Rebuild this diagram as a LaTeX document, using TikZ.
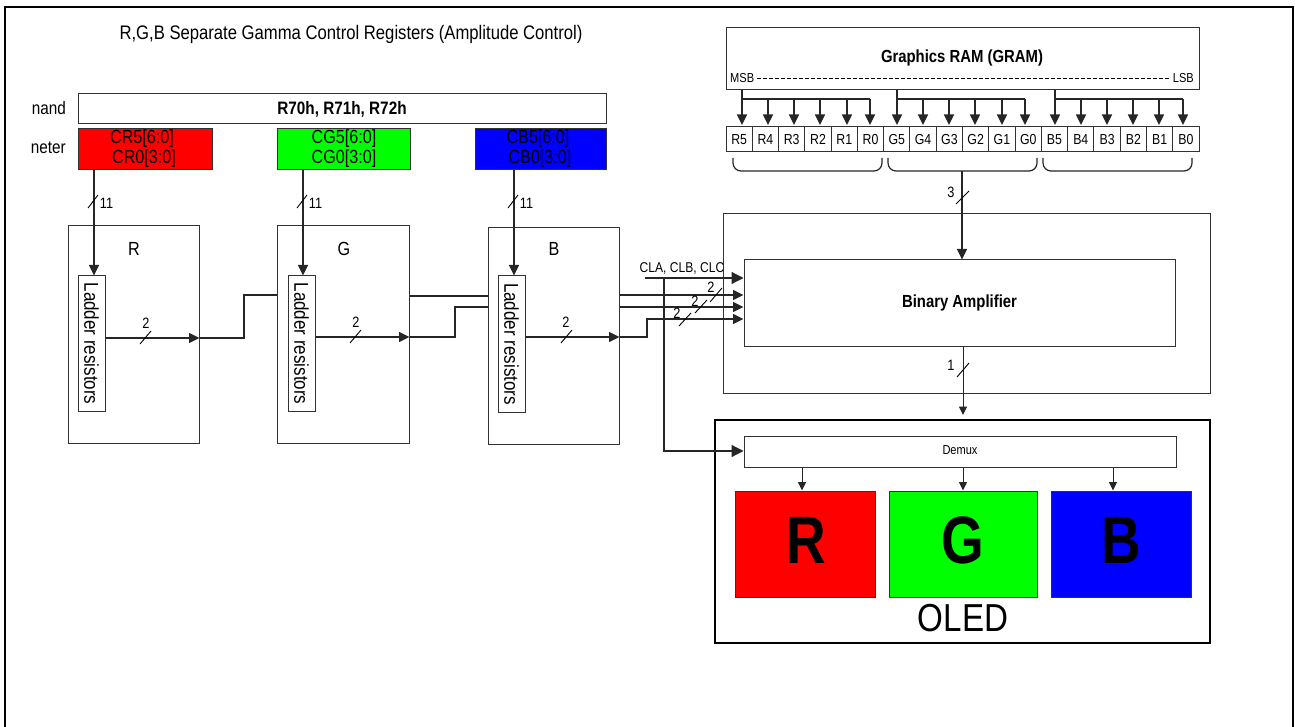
\documentclass[tikz,border=0pt]{standalone}
\usepackage{fontspec}
\setmainfont{Liberation Sans}
\newfontfamily\narrowfont[FakeStretch=0.85]{Liberation Sans}
\newfontfamily\bigfont[FakeStretch=0.82]{Liberation Sans}
\usetikzlibrary{positioning, arrows.meta, calc}
\definecolor{LineGray}{RGB}{50, 50, 50}
\definecolor{PureRed}{RGB}{255, 0, 0}
\definecolor{PureGreen}{RGB}{0, 255, 0}
\definecolor{PureBlue}{RGB}{0, 0, 255}
\tikzset{
  box/.style={draw=LineGray, line width=1pt, inner sep=0pt},
  thickbox/.style={box, draw=black, line width=2.2pt},
  wire/.style={draw=black!85, line width=1.2pt},
  arrbig/.style={wire, -{Triangle[length=12pt, width=12pt]}},
  arrmid/.style={wire, -{Triangle[length=10.5pt, width=10pt]}},
  arrsmall/.style={wire, line width=1pt, -{Triangle[length=8.5pt, width=8pt]}},
  slash/.style={draw=black, line width=0.9pt},
  tiny label/.style={inner sep=0pt, font=\narrowfont\fontsize{15}{17}\selectfont},
  body/.style={inner sep=0pt, font=\narrowfont\fontsize{19}{21}\selectfont},
  cell/.style={box, minimum width=26.28pt, minimum height=25pt, text height=10pt, text depth=0pt, font=\narrowfont\fontsize{14.5}{16}\selectfont},
}
\begin{document}
\begin{tikzpicture}[x=1pt, y=-1pt]
    \useasboundingbox (0,0) rectangle (1295,727);

    % Outer frame
    \draw[black, line width=2.4pt] (5,727) -- (5,7) -- (1293,7) -- (1293,727);

    % Registers
    \node[body, font=\narrowfont\fontsize{19.6}{22}\selectfont] (title) at (351,34) {R,G,B Separate Gamma Control Registers (Amplitude Control)};
    \node[body, anchor=east, font=\narrowfont\fontsize{18}{20}\selectfont] (cmdlabel) at (66,108) {nand};
    \node[body, anchor=east, font=\narrowfont\fontsize{18}{20}\selectfont] (paramlabel) at (66,148) {neter};
    \node[box, minimum width=528pt, minimum height=30pt, font=\narrowfont\bfseries\fontsize{18}{20}\selectfont] (cmd) at (342,109) {R70h, R71h, R72h};
    \node[box, fill=PureRed, minimum width=134pt, minimum height=41pt] (regR) at (145,149.5) {};
    \node[box, fill=PureGreen, minimum width=133pt, minimum height=41pt] (regG) at (343.5,149.5) {};
    \node[box, fill=PureBlue, minimum width=131pt, minimum height=41pt] (regB) at (540.5,149.5) {};
    \node[body] (regRa) at (142,139) {CR5[6:0]};
    \node[body] (regRb) at (144,159) {CR0[3:0]};
    \node[body] (regGa) at (344,139) {CG5[6:0]};
    \node[body] (regGb) at (344,159) {CG0[3:0]};
    \node[body] (regBa) at (538,139) {CB5[6:0]};
    \node[body] (regBb) at (540,159) {CB0[3:0]};

    % Gamma blocks
    \node[box, minimum width=131pt, minimum height=217pt] (boxR) at (133.5,334.5) {};
    \node[box, minimum width=132pt, minimum height=217pt] (boxG) at (343,334.5) {};
    \node[box, minimum width=131pt, minimum height=217pt] (boxB) at (553.5,336) {};
    \node[body] (nameR) at (134,249) {R};
    \node[body] (nameG) at (344,249) {G};
    \node[body] (nameB) at (554,249) {B};
    \node[box, minimum width=27pt, minimum height=135pt] (ladR) at (91.5,343.5) {};
    \node[box, minimum width=27pt, minimum height=135pt] (ladG) at (301.5,343.5) {};
    \node[box, minimum width=27pt, minimum height=136pt] (ladB) at (511.5,344) {};
    \foreach \c in {R,G,B}
      \node[body, rotate=-90, font=\narrowfont\fontsize{20}{22}\selectfont] (ladtext\c) at (lad\c) {Ladder resistors};

    % Register to ladder
    \foreach \c/\xa in {R/94, G/303, B/514} {
      \coordinate (in\c) at (\xa,170);
      \draw[arrmid] (in\c) -- (in\c |- lad\c.north);
      \draw[slash] (\xa-6,208) -- (\xa+4,195);
      \node[tiny label] (bits\c) at (\xa+12.5,203) {11};
    }

    % Ladder outputs
    \coordinate (outR) at (boxR.east |- 0,338);
    \coordinate (outG) at (boxG.east |- 0,337);
    \coordinate (outB) at (boxB.east |- 0,337);
    \foreach \c in {R,G,B}
      \draw[arrmid] (lad\c.east |- out\c) -- (out\c);
    \draw[slash] (140,344) -- (151,331);
    \draw[slash] (350,343) -- (361,330);
    \draw[slash] (561,343) -- (572,330);
    \node[tiny label] (widthR) at (146,323) {2};
    \node[tiny label] (widthG) at (356,322) {2};
    \node[tiny label] (widthB) at (566,322) {2};

    % Links between blocks
    \draw[wire] (outR) -- (244,338) -- (244,295) -- (boxG.west |- 0,295);
    \draw[wire] (boxG.east |- 0,296) -- (boxB.west |- 0,296);
    \draw[wire] (outG) -- (455,337) -- (455,307) -- (boxB.west |- 0,307);

    % Amplifier
    \node[box, minimum width=487pt, minimum height=179pt] (ampouter) at (966.5,303.5) {};
    \node[box, fill=white, minimum width=431pt, minimum height=86pt, font=\narrowfont\bfseries\fontsize{17.5}{20}\selectfont] (amp) at (959.5,303) {Binary Amplifier};
    \draw[arrmid] (boxB.east |- 0,295) -- (amp.west |- 0,295);
    \draw[arrmid] (boxB.east |- 0,307) -- (amp.west |- 0,307);
    \draw[arrmid] (outB) -- (647,337) -- (647,319) -- (amp.west |- 0,319);
    \coordinate (clk) at (645,278);
    \draw[arrbig] (clk) -- (amp.west |- clk);
    \node[tiny label, font=\narrowfont\fontsize{14.2}{16}\selectfont] (clklabel) at (682,268) {CLA, CLB, CLC};
    \draw[slash] (710,302) -- (722,288);
    \draw[slash] (695,313) -- (707,300);
    \draw[slash] (679,326) -- (691,313);
    \node[tiny label] (clkA) at (711,287) {2};
    \node[tiny label] (clkB) at (695,301) {2};
    \node[tiny label] (clkC) at (677,313) {2};

    % GRAM
    \node[box, minimum width=473pt, minimum height=62pt] (gram) at (962.5,59) {};
    \node[inner sep=0pt, font=\narrowfont\bfseries\fontsize{17.5}{20}\selectfont] (gramtext) at (962,58) {Graphics RAM (GRAM)};
    \node[tiny label, anchor=west, font=\narrowfont\fontsize{13}{15}\selectfont] (msb) at (730,78) {MSB};
    \node[tiny label, anchor=east, font=\narrowfont\fontsize{13}{15}\selectfont] (lsb) at (1194,78) {LSB};
    \draw[black, line width=0.8pt, dash pattern=on 3.5pt off 2.5pt, shorten >=3pt, shorten <=3pt] (msb.east) -- (lsb.west);
    \foreach \name [count=\i from 0] in {R5,R4,R3,R2,R1,R0,G5,G4,G3,G2,G1,G0,B5,B4,B3,B2,B1,B0}
      \node[cell] (\name) at ({726+26.28*(\i+0.5)},139.5) {\name};
    \foreach \name/\xa in {R5/742,R4/768,R3/794,R2/820,R1/847,R0/870,
                           G5/897,G4/923,G3/949,G2/975,G1/1002,G0/1025,
                           B5/1055,B4/1081,B3/1107,B2/1133,B1/1159,B0/1183} {
      \coordinate (tap\name) at (\xa,99);
      \draw[arrmid, shorten >=1.5pt] (tap\name) -- (tap\name |- \name.north);
    }
    \draw[wire] (tapR5 |- gram.south) -- (tapR5) -- (tapR0);
    \draw[wire] (tapG5 |- gram.south) -- (tapG5) -- (tapG0);
    \draw[wire] (tapB5 |- gram.south) -- (tapB5) -- (tapB0);

    % Braces under the cells
    \draw[wire, rounded corners=8pt] (733,158) -- (733,171) -- (882,171) -- (882,158);
    \draw[wire, rounded corners=8pt] (888,158) -- (888,171) -- (1037,171) -- (1037,158);
    \draw[wire, rounded corners=8pt] (1043,158) -- (1043,171) -- (1192,171) -- (1192,158);

    \coordinate (bracemid) at (962,171);
    \draw[arrmid] (bracemid) -- (bracemid |- amp.north);
    \draw[slash] (956,204) -- (969,191);
    \node[tiny label] (widthram) at (951,192) {3};

    % OLED
    \node[thickbox, minimum width=495pt, minimum height=223pt] (oled) at (962.5,531.5) {};
    \node[box, minimum width=432pt, minimum height=31pt] (demux) at (960,451.5) {};
    \node[inner sep=0pt, font=\narrowfont\fontsize{13}{15}\selectfont] (demuxtext) at (960,450.5) {Demux};
    \node[box, fill=PureRed, minimum width=140pt, minimum height=106pt] (scrR) at (805,544) {};
    \node[box, fill=PureGreen, minimum width=148pt, minimum height=106pt] (scrG) at (963,544) {};
    \node[box, fill=PureBlue, minimum width=140pt, minimum height=106pt] (scrB) at (1121,544) {};
    \foreach \c/\xa in {R/806, G/963, B/1121}
      \node[inner sep=0pt, font=\bigfont\bfseries\fontsize{67}{72}\selectfont] (big\c) at (\xa,540) {\c};
    \node[inner sep=0pt, font=\narrowfont\fontsize{39}{42}\selectfont] (oledtext) at (963,618) {OLED};

    \coordinate (ampout) at (963,346);
    \coordinate (oledin) at (963,415);
    \draw[arrsmall] (ampout) -- (oledin);
    \draw[slash] (957,377) -- (969,363);
    \node[tiny label] (widthout) at (951,365) {1};
    \foreach \c/\xa in {R/802, G/963, B/1113} {
      \coordinate (dem\c) at (\xa,467);
      \draw[arrsmall] (dem\c) -- (dem\c |- scr\c.north);
    }

    % Clock to demux
    \coordinate (clkdrop) at (664,278);
    \draw[arrbig] (clkdrop) -- (664,451) -- (demux.west |- 0,451);
  \end{tikzpicture}
\end{document}
